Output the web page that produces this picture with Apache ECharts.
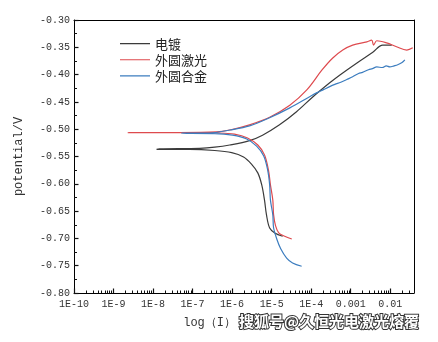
<!DOCTYPE html>
<html>
<head>
<meta charset="utf-8">
<script src="https://cdn.jsdelivr.net/npm/echarts@6/dist/echarts.min.js"></script>
<style>html,body{margin:0;padding:0;background:#fff}#c{width:438px;height:342px}</style>
</head>
<body>
<div id="c"></div>
<script>
// Series names
var seriesNames = ['电镀', '外圆激光', '外圆合金'];

// Log10(current) and potential (V), ordered cathodic end -> Ecorr -> anodic end
var platingLogI = [-4.72, -4.92, -5.05, -5.13, -5.18, -5.25, -5.35, -5.51, -5.71, -6.01, -6.44, -7.08, -7.91,
                   -7.84, -6.82, -6.44, -6.06, -5.56, -5.23, -4.80, -4.37, -3.96, -3.53, -3.28, -2.85, -2.44, -2.19, -1.96];
var platingV    = [-0.696, -0.690, -0.681, -0.657, -0.630, -0.602, -0.580, -0.564, -0.551, -0.543, -0.539, -0.537, -0.537,
                   -0.536, -0.535, -0.533, -0.529, -0.521, -0.511, -0.492, -0.468, -0.441, -0.415, -0.401, -0.379, -0.359, -0.346, -0.346];

var laserLogI = [-4.49, -4.67, -4.82, -4.90, -4.95, -4.97, -5.03, -5.08, -5.18, -5.35, -5.61, -5.94, -6.32, -7.33, -8.64,
                 -8.60, -7.33, -6.39, -6.06, -5.56, -5.05, -4.54, -4.11, -3.73, -3.46, -3.20, -2.95, -2.59, -2.47, -2.42, -2.34, -2.09, -1.84, -1.58, -1.43];
var laserV    = [-0.701, -0.696, -0.690, -0.677, -0.657, -0.630, -0.602, -0.575, -0.547, -0.529, -0.516, -0.509, -0.507, -0.5065, -0.5065,
                 -0.5060, -0.5060, -0.505, -0.5015, -0.492, -0.478, -0.456, -0.428, -0.392, -0.370, -0.355, -0.346, -0.340, -0.337, -0.346, -0.338, -0.342, -0.349, -0.355, -0.351];

var alloyLogI = [-4.24, -4.47, -4.62, -4.77, -4.87, -4.95, -4.97, -5.03, -5.05, -5.10, -5.20, -5.38, -5.63, -5.99, -6.44, -7.28,
                 -7.25, -6.57, -6.06, -5.56, -5.05, -4.54, -4.05, -3.85, -3.70, -3.53, -3.40, -3.25, -3.10, -2.95, -2.80, -2.70, -2.55, -2.45, -2.34, -2.20, -2.10, -2.01, -1.90, -1.81, -1.70, -1.63];
var alloyV    = [-0.751, -0.745, -0.736, -0.719, -0.701, -0.681, -0.657, -0.630, -0.602, -0.575, -0.549, -0.531, -0.518, -0.511, -0.508, -0.5075,
                 -0.5072, -0.507, -0.5015, -0.494, -0.479, -0.461, -0.441, -0.433, -0.428, -0.422, -0.418, -0.414, -0.409, -0.404, -0.398, -0.396, -0.391, -0.389, -0.386, -0.387, -0.384, -0.386, -0.384, -0.382, -0.378, -0.373];

// Axis settings
var xMin = 1e-10, xMax = 0.04;
var xMinorMultipliers = [2, 3, 4, 5, 6, 7, 8, 9];
var xDecades = [1e-10, 1e-9, 1e-8, 1e-7, 1e-6, 1e-5, 1e-4, 1e-3, 1e-2];
var yMin = -0.80, yMax = -0.30, yStep = 0.05;

function toPairs(logI, v) {
  return logI.map(function (l, i) { return [Math.pow(10, l), v[i]]; });
}
var xMinorTicks = [];
xDecades.forEach(function (m) {
  xMinorMultipliers.forEach(function (k) {
    var val = m * k;
    if (val <= xMax * 1.0001) xMinorTicks.push(val);
  });
});
function isDecade(v) {
  var e = Math.log10(v);
  return Math.abs(e - Math.round(e)) < 1e-6;
}

var labelFont = 'Liberation Mono';
var tickColor = '#111';
var legendLineIcon = 'path://M0,0L0.01,0L0.01,0.01Z M0,6.4L32,6.4L32,7.6L0,7.6Z M0,14L0.01,14L0.01,13.99Z';
var chart = echarts.init(document.getElementById('c'));
chart.setOption({
  animation: false,
  backgroundColor: '#fff',
  grid: {left: 74, top: 20, right: 24, bottom: 49},
  legend: {
    orient: 'vertical', left: 115, top: 32, itemWidth: 30, itemHeight: 14, itemGap: 3,
    icon: legendLineIcon,
    textStyle: {fontFamily: 'Noto Sans CJK SC', fontSize: 13, color: '#222'},
    data: seriesNames
  },
  xAxis: [{
    type: 'log', min: xMin, max: xMax, position: 'bottom',
    name: 'log（I）', nameLocation: 'middle', nameGap: 24,
    nameTextStyle: {fontFamily: labelFont, fontSize: 12, color: '#333', align: 'right', padding: [0, 8, 0, 0]},
    axisLine: {show: true, onZero: false, lineStyle: {color: '#000', width: 1}},
    axisTick: {show: true, inside: true, length: 4.5, lineStyle: {color: tickColor, width: 1.2}},
    axisLabel: {show: true, showMaxLabel: false, margin: 6, fontFamily: labelFont, fontSize: 10, color: '#333',
      formatter: function (v) {
        if (!isDecade(v)) return '';
        var e = Math.round(Math.log10(v));
        return e <= -4 ? '1E' + e : String(Math.pow(10, e).toFixed(-e));
      }},
    splitLine: {show: false}
  }, {
    type: 'log', min: xMin, max: xMax, position: 'bottom',
    axisLine: {show: false, onZero: false},
    axisTick: {show: true, inside: true, length: 2.5, customValues: xMinorTicks, lineStyle: {color: tickColor, width: 1}},
    axisLabel: {show: false},
    splitLine: {show: false}
  }, {
    type: 'log', min: xMin, max: xMax, position: 'top',
    axisLine: {show: true, onZero: false, lineStyle: {color: '#000', width: 1}},
    axisTick: {show: false}, axisLabel: {show: false}, splitLine: {show: false}
  }],
  yAxis: [{
    type: 'value', min: yMin, max: yMax, interval: yStep, position: 'left',
    name: 'potential/V', nameLocation: 'middle', nameGap: 49,
    nameTextStyle: {fontFamily: labelFont, fontSize: 12, color: '#333'},
    axisLine: {show: true, onZero: false, lineStyle: {color: '#000', width: 1}},
    axisTick: {show: true, inside: true, length: 4.5, lineStyle: {color: tickColor, width: 1.2}},
    minorTick: {show: true, splitNumber: 2, length: 3, lineStyle: {color: tickColor, width: 1}},
    axisLabel: {margin: 4, fontFamily: labelFont, fontSize: 10, color: '#333', formatter: function (v) { return v.toFixed(2); }},
    splitLine: {show: false}
  }, {
    type: 'value', min: yMin, max: yMax, interval: yStep, position: 'right',
    axisLine: {show: true, onZero: false, lineStyle: {color: '#000', width: 1}},
    axisTick: {show: false}, axisLabel: {show: false}, splitLine: {show: false}
  }],
  graphic: [{
    type: 'text', left: 238, top: 313,
    style: {text: '搜狐号@久恒光电激光熔覆', font: 'bold 15px "Noto Sans CJK SC"', fill: '#fff', stroke: '#333', lineWidth: 2}
  }],
  series: [
    {name: seriesNames[0], type: 'line', xAxisIndex: 0, yAxisIndex: 0, symbol: 'none', smooth: 0.35, color: '#3b3b3b', lineStyle: {width: 1.2}, data: toPairs(platingLogI, platingV)},
    {name: seriesNames[1], type: 'line', xAxisIndex: 0, yAxisIndex: 0, symbol: 'none', smooth: 0.35, color: '#de4a4e', lineStyle: {width: 1.2}, data: toPairs(laserLogI, laserV)},
    {name: seriesNames[2], type: 'line', xAxisIndex: 0, yAxisIndex: 0, symbol: 'none', smooth: 0.35, color: '#3c7dbf', lineStyle: {width: 1.2}, data: toPairs(alloyLogI, alloyV)}
  ]
});
</script>
</body>
</html>
